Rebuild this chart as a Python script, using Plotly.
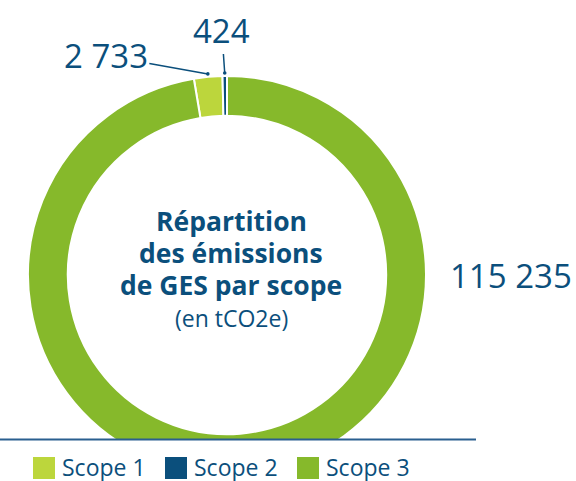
import math
import plotly.graph_objects as go

# ---- data ----
labels = ["Scope 1", "Scope 2", "Scope 3"]
values = [2733, 424, 115235]
colors = ["#bcd63c", "#0b4f7c", "#86b92b"]
center_lines = ["Répartition", "des émissions", "de GES par scope"]
center_sub = "(en tCO2e)"

W, H = 576, 481
TXT = "#0b4f7c"
FONT = "Open Sans"

# donut geometry (pixels)
CX, CY, R = 227, 275, 199


def px(x):
    return x / W


def py(y):
    return 1 - y / H


def fmt(v):
    return f"{v:,}".replace(",", " ")


total = sum(values)
rotation = -(values[0] + values[1]) / total * 360

fig = go.Figure(go.Pie(
    labels=labels,
    values=values,
    marker=dict(colors=colors, line=dict(color="white", width=2)),
    hole=0.80,
    sort=False,
    direction="clockwise",
    rotation=rotation,
    textinfo="none",
    hoverinfo="label+value",
    showlegend=False,
    domain=dict(x=[px(CX - R), px(CX + R)], y=[py(CY + R), py(CY - R)]),
))

annotations = []
shapes = []

# value labels with leader lines for small slices
mid_angles = []
acc = rotation
for v in values:
    a = v / total * 360
    mid_angles.append(acc + a / 2)
    acc += a

label_offsets = [(-102, -18), (-3, -43)]
for i in range(2):
    th = math.radians(mid_angles[i])
    rr = R + 3
    x = CX + rr * math.sin(th)
    y = CY - rr * math.cos(th)
    ax, ay = label_offsets[i]
    annotations.append(dict(
        x=px(x), y=py(y), xref="paper", yref="paper",
        text=fmt(values[i]), showarrow=True, ax=ax, ay=ay,
        arrowhead=6, arrowsize=0.6, arrowwidth=1.5, arrowcolor=TXT,
        standoff=0, startstandoff=0,
        font=dict(family=FONT, size=33, color=TXT),
    ))

# large slice label
annotations.append(dict(
    x=px(448), y=py(275), xref="paper", yref="paper", xanchor="left",
    yanchor="middle", text=fmt(values[2]), showarrow=False,
    font=dict(family=FONT, size=33, color=TXT),
))

# center title
ys = [221, 253, 285]
for t, yy in zip(center_lines, ys):
    annotations.append(dict(
        x=px(231), y=py(yy), xref="paper", yref="paper", text=f"<b>{t}</b>",
        showarrow=False, yanchor="middle", borderpad=0,
        font=dict(family=FONT, size=26.5, color=TXT),
    ))
annotations.append(dict(
    x=px(231), y=py(318), xref="paper", yref="paper", text=center_sub,
    showarrow=False, yanchor="middle", borderpad=0,
    font=dict(family=FONT, size=23, color=TXT),
))

# white mask below baseline + baseline
shapes.append(dict(type="rect", xref="paper", yref="paper", layer="above",
                   x0=0, x1=1, y0=0, y1=py(440), fillcolor="white",
                   line=dict(width=0)))
shapes.append(dict(type="line", xref="paper", yref="paper", layer="above",
                   x0=0, x1=px(476), y0=py(439.5), y1=py(439.5),
                   line=dict(color="#2a5f8f", width=2)))

# legend
for i, (lab, col) in enumerate(zip(labels, colors)):
    x0 = 33 + i * 132
    shapes.append(dict(type="rect", xref="paper", yref="paper", layer="above",
                       x0=px(x0), x1=px(x0 + 22), y0=py(479), y1=py(457),
                       fillcolor=col, line=dict(width=0)))
    annotations.append(dict(
        x=px(x0 + 28), y=py(467), xref="paper", yref="paper", xanchor="left",
        yanchor="middle", text=lab, showarrow=False, borderpad=0,
        font=dict(family=FONT, size=23, color=TXT),
    ))

fig.update_layout(
    width=W, height=H,
    margin=dict(l=0, r=0, t=0, b=0),
    paper_bgcolor="white", plot_bgcolor="white",
    annotations=annotations, shapes=shapes,
    showlegend=False,
)

fig.write_html(
    "out.html",
    config={"displayModeBar": False},
    post_script="document.body.style.margin='0';document.body.style.overflow='hidden';",
)
